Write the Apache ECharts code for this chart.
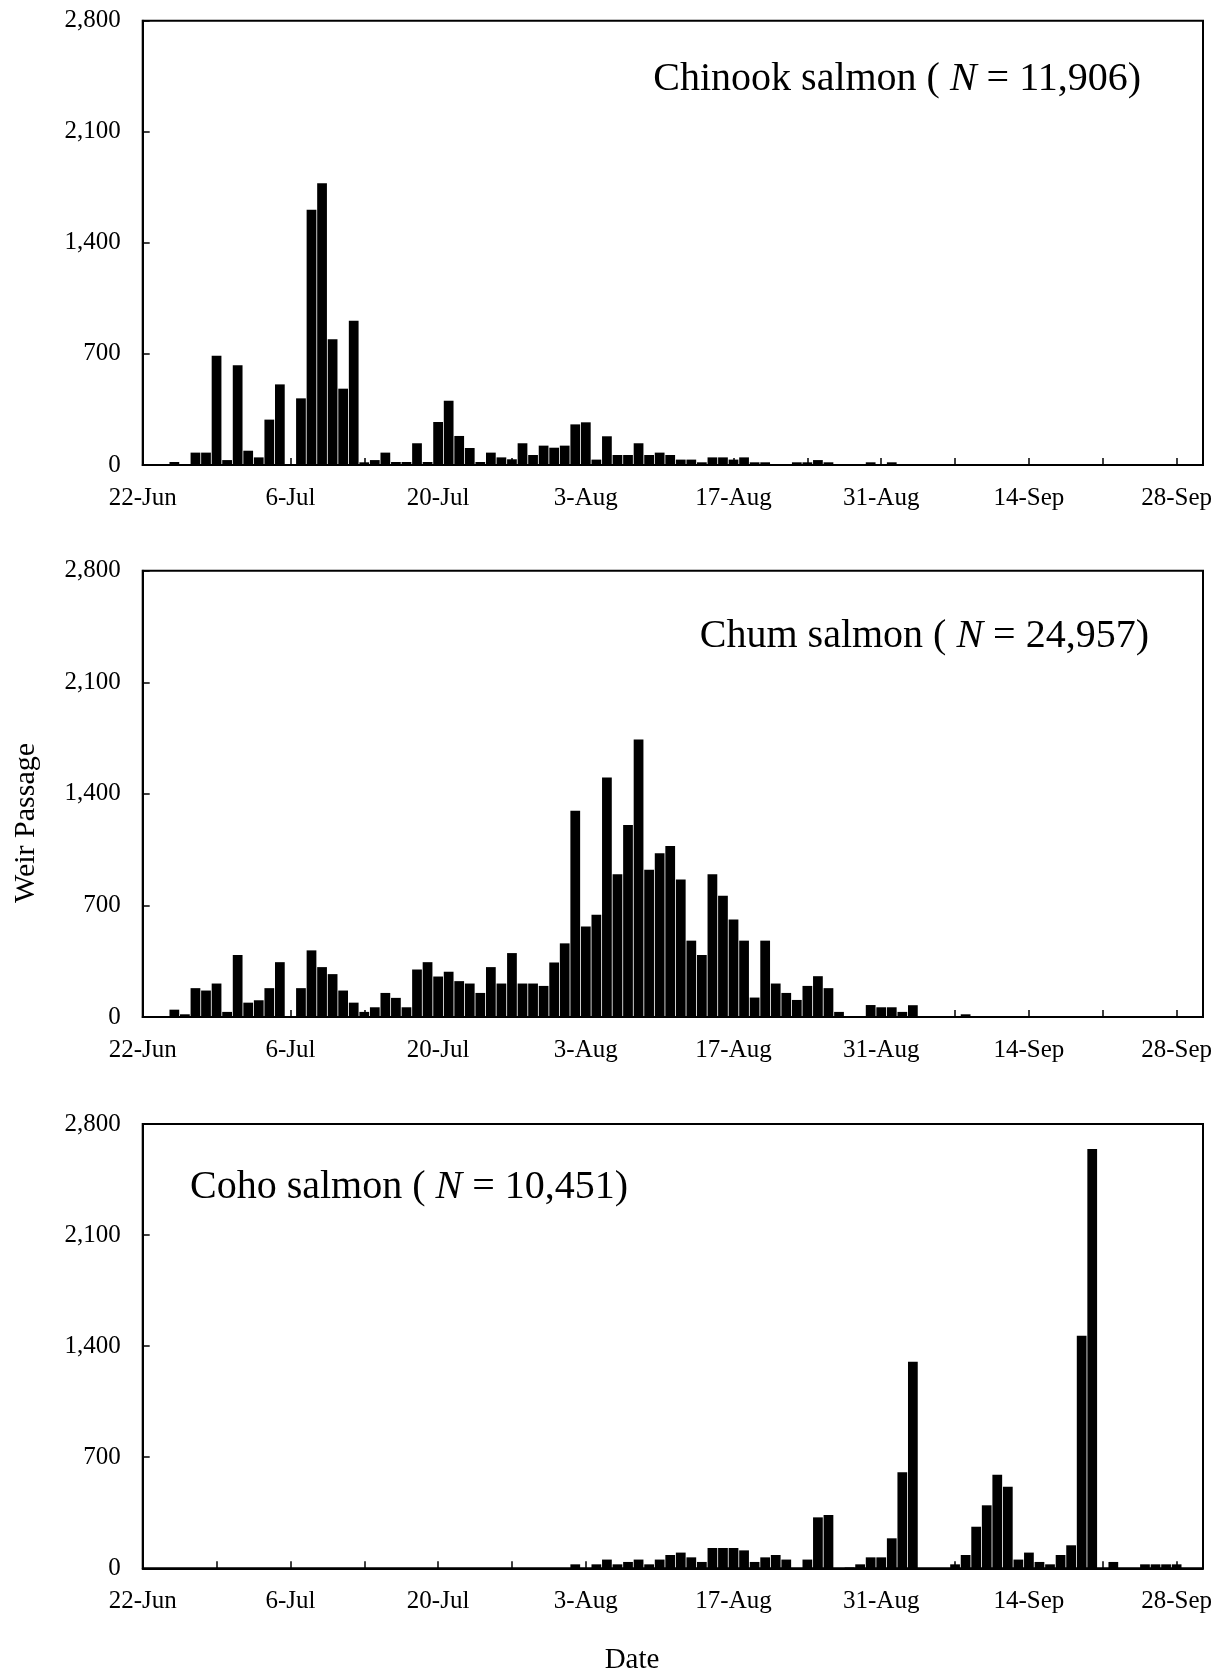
<!DOCTYPE html>
<html lang="en">
<head>
  <meta charset="UTF-8">
  <title>Weir Passage</title>
  <style>
    html, body {
      margin: 0;
      padding: 0;
      background: #fff;
    }

    #chart {
      width: 1227px;
      height: 1674px;
    }
  </style>
</head>
<body>
  <div id="chart"></div>
  <script src="https://cdn.jsdelivr.net/npm/echarts@6/dist/echarts.min.js"></script>
  <script>
    // daily weir counts, index 0 = 22-Jun ... index 99 = 29-Sep
    var chinook = [
      0, 0, 0, 19, 0, 78, 78, 689, 31, 628,
      90, 48, 286, 508, 0, 420, 1609, 1775, 792, 481,
      909, 17, 31, 78, 19, 19, 137, 19, 271, 405,
      183, 107, 19, 78, 48, 36, 137, 63, 122, 109,
      122, 256, 269, 34, 181, 63, 63, 137, 63, 78,
      63, 34, 34, 17, 48, 48, 34, 48, 17, 17,
      4, 4, 17, 17, 31, 17, 5, 5, 5, 17,
      5, 17, 0, 0, 0, 0, 0, 0, 0, 0,
      0, 0, 0, 0, 0, 0, 0, 0, 0, 0,
      0, 0, 0, 0, 0, 0, 0, 0, 0, 0
    ]
    var chum = [
      0, 0, 0, 46, 17, 181, 166, 210, 32, 389,
      90, 105, 181, 344, 0, 181, 418, 313, 269, 166,
      90, 32, 61, 151, 120, 61, 298, 344, 254, 284,
      225, 210, 151, 313, 210, 401, 210, 210, 195, 342,
      462, 1294, 567, 641, 1502, 895, 1205, 1741, 924, 1027,
      1073, 863, 479, 389, 895, 760, 611, 479, 122, 479,
      210, 151, 107, 195, 256, 181, 32, 6, 6, 75,
      61, 61, 32, 74, 0, 0, 0, 0, 17, 0,
      0, 0, 0, 0, 0, 0, 0, 0, 0, 0,
      0, 0, 0, 0, 0, 0, 0, 0, 0, 0
    ]
    var coho = [
      0, 0, 0, 0, 0, 0, 0, 0, 0, 0,
      0, 0, 0, 0, 0, 0, 0, 0, 0, 0,
      0, 0, 0, 0, 0, 0, 0, 0, 0, 0,
      0, 0, 0, 0, 0, 0, 0, 0, 0, 0,
      0, 25, 0, 25, 55, 25, 40, 55, 25, 55,
      84, 99, 69, 40, 128, 128, 128, 113, 40, 69,
      84, 55, 0, 55, 321, 336, 0, 5, 25, 69,
      69, 189, 605, 1302, 0, 0, 0, 25, 84, 262,
      397, 590, 514, 55, 99, 40, 25, 84, 145, 1466,
      2642, 0, 40, 0, 0, 25, 25, 25, 25, 0
    ]
    var speciesNames = ['Chinook salmon', 'Chum salmon', 'Coho salmon']
    var speciesTotals = ['11,906', '24,957', '10,451']
    // labelled every 14 days from 22-Jun
    var dateLabels = ['22-Jun', '6-Jul', '20-Jul', '3-Aug', '17-Aug', '31-Aug', '14-Sep', '28-Sep']

    var seriesData = [chinook, chum, coho]
    var font = 'Liberation Serif, Times New Roman, serif'

    var gridLeft = 142.7
    var gridWidth = 1060.3
    var gridTops = [20.7, 570.7, 1124]
    var gridHeights = [444.3, 446.3, 444.3]
    var xMax = 100.5
    var dayPx = gridWidth / xMax

    var grids = [], xAxes = [], yAxes = [], series = [], titles = []

    // title placement per panel
    var titlePos = [
      { right: 86, top: 59 },
      { right: 78, top: 616 },
      { left: 190, top: 1167 }
    ]

    seriesData.forEach(function (arr, k) {
      grids.push({
        left: gridLeft,
        top: gridTops[k],
        width: gridWidth,
        height: gridHeights[k],
        show: true,
        borderColor: '#000',
        borderWidth: 2,
        backgroundColor: 'transparent'
      })
      xAxes.push({
        type: 'value',
        gridIndex: k,
        min: 0,
        max: xMax,
        interval: 7,
        axisLine: { show: true, lineStyle: { color: '#000', width: 2 } },
        axisTick: { show: true, inside: true, length: 7, lineStyle: { color: '#000', width: 1.5 } },
        splitLine: { show: false },
        axisLabel: {
          showMinLabel: true,
          showMaxLabel: true,
          margin: 21,
          color: '#000',
          fontFamily: font,
          fontSize: 25,
          formatter: function (v) {
            if (v % 14 !== 0) return ''
            return dateLabels[v / 14] || ''
          }
        }
      })
      yAxes.push({
        type: 'value',
        gridIndex: k,
        min: 0,
        max: 2800,
        interval: 700,
        axisLine: { show: true, lineStyle: { color: '#000', width: 2 } },
        axisTick: { show: true, inside: true, length: 7, lineStyle: { color: '#000', width: 1.5 } },
        splitLine: { show: false },
        axisLabel: {
          margin: 22,
          color: '#000',
          fontFamily: font,
          fontSize: 25,
          formatter: function (v) {
            return v.toLocaleString('en-US')
          }
        }
      })
      series.push({
        type: 'bar',
        xAxisIndex: k,
        yAxisIndex: k,
        barWidth: dayPx - 0.8,
        itemStyle: { color: '#000' },
        silent: true,
        data: arr.map(function (v, i) { return [i, v] })
      })
      var t = {
        text: '{a|' + speciesNames[k] + ' ( }{n|N}{a| = ' + speciesTotals[k] + ')}',
        padding: 0,
        textStyle: {
          fontWeight: 'normal',
          rich: {
            a: { fontFamily: font, fontSize: 40, fontWeight: 'normal', color: '#000' },
            n: { fontFamily: font, fontSize: 40, fontWeight: 'normal', fontStyle: 'italic', color: '#000' }
          }
        }
      }
      Object.assign(t, titlePos[k])
      titles.push(t)
    })

    var myChart = echarts.init(document.getElementById('chart'), null, { renderer: 'canvas' })
    myChart.setOption({
      animation: false,
      backgroundColor: '#fff',
      title: titles,
      grid: grids,
      xAxis: xAxes,
      yAxis: yAxes,
      series: series,
      graphic: [
        {
          type: 'text',
          x: 26,
          y: 823,
          rotation: Math.PI / 2,
          style: {
            text: 'Weir Passage',
            fontFamily: font,
            fontSize: 30,
            fill: '#000',
            textAlign: 'center',
            textVerticalAlign: 'middle'
          }
        },
        {
          type: 'text',
          x: 632,
          y: 1660,
          style: {
            text: 'Date',
            fontFamily: font,
            fontSize: 29,
            fill: '#000',
            textAlign: 'center',
            textVerticalAlign: 'middle'
          }
        }
      ]
    })
  </script>
</body>
</html>
